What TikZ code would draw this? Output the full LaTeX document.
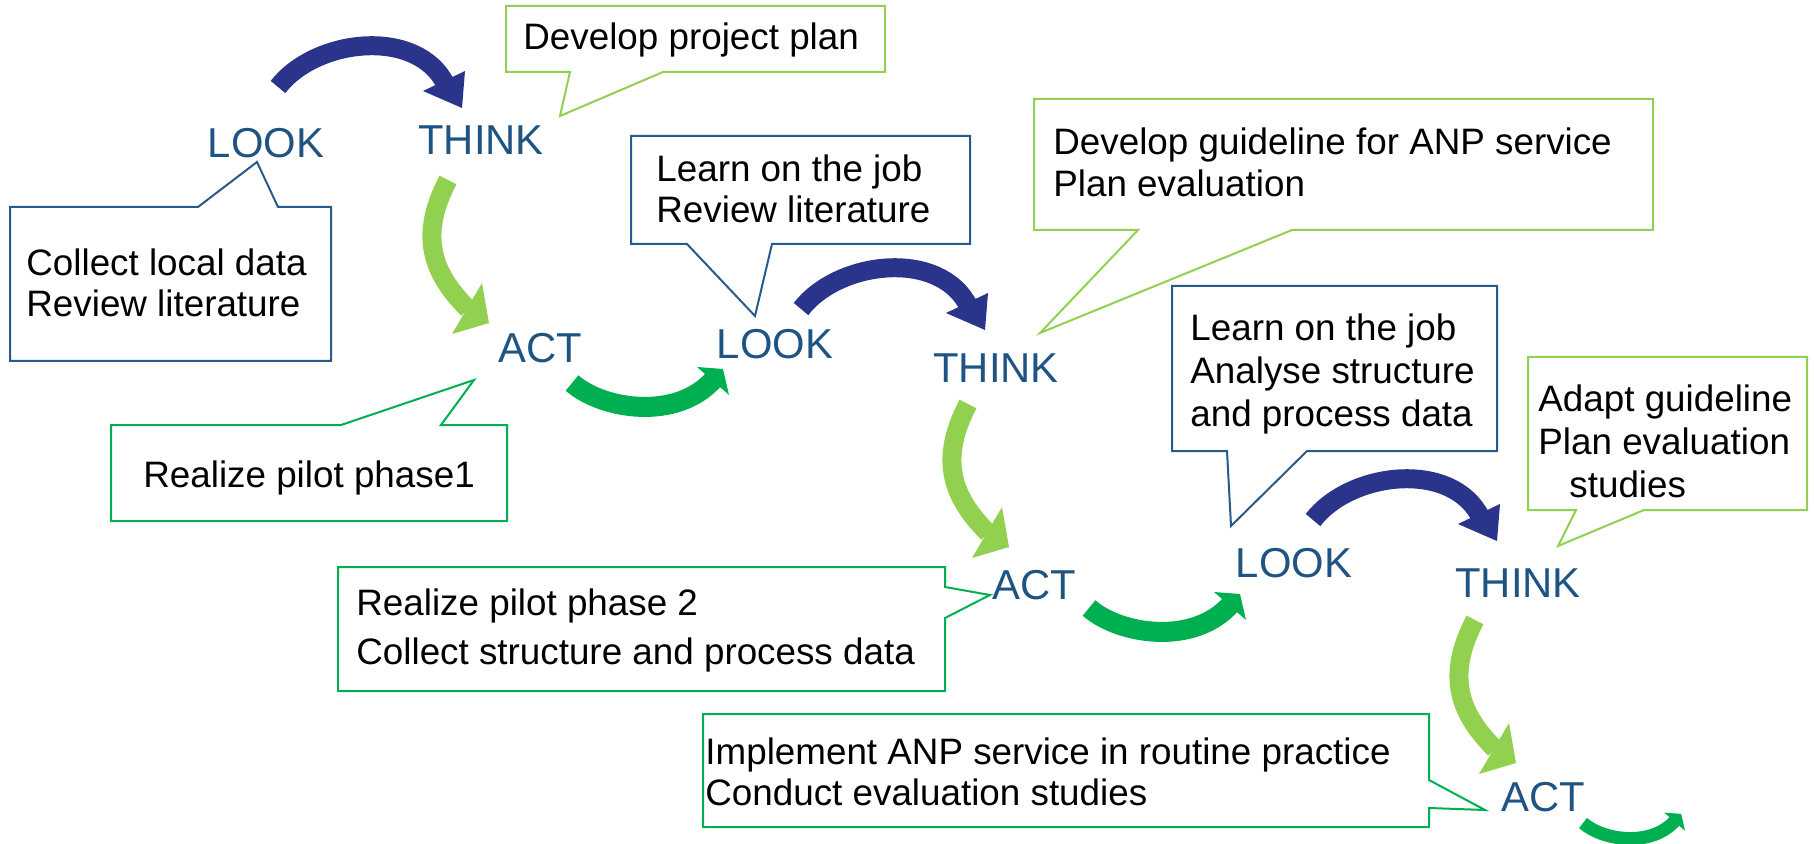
\documentclass[tikz,border=0pt]{standalone}
\usepackage{fontspec}
\setmainfont{Liberation Sans}
\definecolor{lblblue}{RGB}{31,84,130}
\definecolor{boxblue}{RGB}{40,90,140}
\definecolor{arcblue}{RGB}{41,52,138}
\definecolor{lgreen}{RGB}{146,208,80}
\definecolor{dgreen}{RGB}{0,176,80}
\tikzset{
  arcw/.store in=\arcw, arcw=10pt,
  lbl/.style={anchor=base, inner sep=0pt, text=lblblue, font=\fontsize{20.9pt}{24pt}\selectfont},
  txt/.style={anchor=base west, inner sep=0pt, text=black, font=\fontsize{18.4pt}{21pt}\selectfont},
  callout/.style={line width=1pt, fill=white, line join=miter},
  cblue/.style={callout, draw=boxblue},
  clgreen/.style={callout, draw=lgreen},
  cdgreen/.style={callout, draw=dgreen},
  bluearc/.pic={
    \draw[arcblue, line width=\arcw] (0,0) .. controls (38,-49) and (140,-60) .. (168,-2);
    \fill[arcblue] (145,4) -- (184,21) -- (187,-16) -- cycle;
  },
  lgarc/.pic={
    \draw[lgreen, line width=\arcw] (0,0) .. controls (-30,57) and (-15,94) .. (20,129);
    \fill[lgreen] (4,154) -- (41,143) -- (34,103) -- cycle;
  },
  dgarc/.pic={
    \draw[dgreen, line width=\arcw] (0,0) .. controls (31,27) and (105,38) .. (142,-4);
    \fill[dgreen] (125,-16) -- (151,-14) -- (157,12) -- cycle;
  }
}
\begin{document}
\begin{tikzpicture}[x=0.5pt,y=-0.5pt]
\useasboundingbox (0,0) rectangle (1814,844);

% callout shapes
\draw[clgreen] (506,6) -- (885,6) -- (885,72) -- (663,72) -- (560,116) -- (570,72) -- (506,72) -- cycle;
\draw[cblue] (10,207) -- (198,207) -- (257,162) -- (278,207) -- (331,207) -- (331,361) -- (10,361) -- cycle;
\draw[cdgreen] (111,425) -- (341,425) -- (474,380) -- (441,425) -- (507,425) -- (507,521) -- (111,521) -- cycle;
\draw[cblue] (631,136) -- (970,136) -- (970,244) -- (772,244) -- (755,316) -- (687,244) -- (631,244) -- cycle;
\draw[clgreen] (1034,99) -- (1653,99) -- (1653,230) -- (1292,230) -- (1040,333) -- (1138,230) -- (1034,230) -- cycle;
\draw[cblue] (1172,286) -- (1497,286) -- (1497,451) -- (1307,451) -- (1231,526) -- (1227,451) -- (1172,451) -- cycle;
\draw[clgreen] (1528,357) -- (1807,357) -- (1807,510) -- (1644,510) -- (1558,546) -- (1576,510) -- (1528,510) -- cycle;
\draw[cdgreen] (338,567) -- (945,567) -- (945,587) -- (990,595) -- (945,618) -- (945,691) -- (338,691) -- cycle;
\draw[cdgreen] (703,714) -- (1429,714) -- (1429,780) -- (1485,810) -- (1429,808) -- (1429,827) -- (703,827) -- cycle;

% callout texts
\node[txt] (t1) at (523,50) {Develop project plan};
\node[txt] (t2) at (26,276) {\vtop{\baselineskip=20.5pt\hbox{Collect local data}\hbox{Review literature}}};
\node[txt] (t3) at (143,487) {Realize pilot phase1};
\node[txt] (t4) at (656,182) {\vtop{\baselineskip=20.5pt\hbox{Learn on the job}\hbox{Review literature}}};
\node[txt] (t5) at (1053,155) {\vtop{\baselineskip=21pt\hbox{Develop guideline for ANP service}\hbox{Plan evaluation}}};
\node[txt] (t6) at (1190,341) {\vtop{\baselineskip=21.5pt\hbox{Learn on the job}\hbox{Analyse structure}\hbox{and process data}}};
\node[txt] (t7) at (1538,411) {\vtop{\baselineskip=21.75pt\hbox{Adapt guideline}\hbox{Plan evaluation}\hbox{\hspace{15.5pt}studies}}};
\node[txt] (t8) at (356,615) {\vtop{\baselineskip=24.5pt\hbox{Realize pilot phase 2}\hbox{Collect structure and process data}}};
\node[txt] (t9) at (705,764) {\vtop{\baselineskip=20.5pt\hbox{Implement ANP service in routine practice}\hbox{Conduct evaluation studies}}};

% cycle labels
\node[lbl] (look1) at (266,158) {LOOK};
\node[lbl] (think1) at (481,155) {THINK};
\node[lbl] (act1) at (540,363) {ACT};
\node[lbl] (look2) at (775,358) {LOOK};
\node[lbl] (think2) at (996,383) {THINK};
\node[lbl] (act2) at (1034,599) {ACT};
\node[lbl] (look3) at (1294,577) {LOOK};
\node[lbl] (think3) at (1518,597) {THINK};
\node[lbl] (act3) at (1543,811) {ACT};

% curved arrows
\coordinate (a1) at (278,87);
\coordinate (a2) at (448,180);
\coordinate (a3) at (572,383);
\coordinate (a4) at (801,309);
\coordinate (a5) at (968,404);
\coordinate (a6) at (1089,608);
\coordinate (a7) at (1313,520);
\coordinate (a8) at (1475,620);
\coordinate (a9) at (1583,823);
\pic[arcw=9.5pt] at (a1) {bluearc};
\pic[arcw=9.5pt] at (a2) {lgarc};
\pic[arcw=10pt] at (a3) {dgarc};
\pic[arcw=9.5pt] at (a4) {bluearc};
\pic[arcw=9.5pt] at (a5) {lgarc};
\pic[arcw=10pt] at (a6) {dgarc};
\pic[arcw=9.5pt] at (a7) {bluearc};
\pic[arcw=9.5pt] at (a8) {lgarc};
\pic[arcw=6.5pt, scale=0.65] at (a9) {dgarc};
\end{tikzpicture}
\end{document}
